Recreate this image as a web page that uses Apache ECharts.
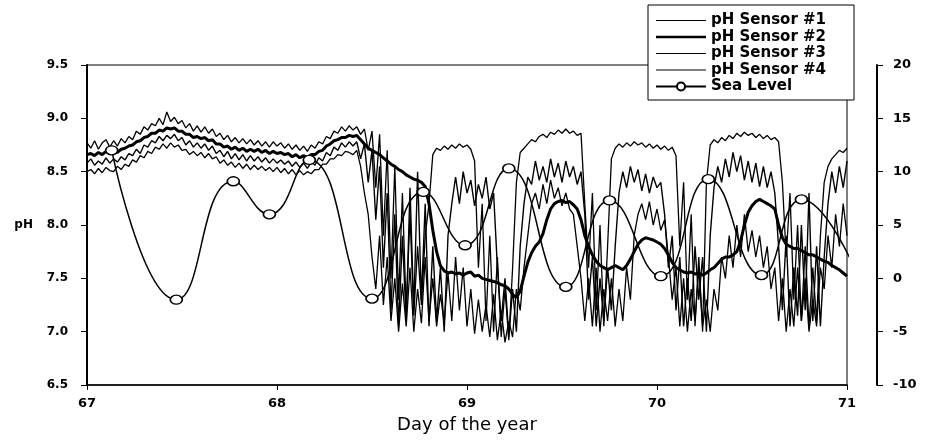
<!DOCTYPE html>
<html>
<head>
<meta charset="utf-8">
<script src="https://cdn.jsdelivr.net/npm/echarts@6/dist/echarts.min.js"></script>
<style>
  html, body { margin: 0; padding: 0; background: #fff; }
  #main { width: 930px; height: 442px; }
</style>
</head>
<body>
<div id="main"></div>
<script>
// sensor readings, one value every 0.02 day from day 67.00 to 71.00
var dayStart = 67
var dayStep = 0.02

var sensor1 = [
  8.77,8.72,8.79,8.71,8.77,8.80,8.73,8.79,8.74,8.81,
  8.77,8.83,8.80,8.88,8.85,8.92,8.89,8.95,8.93,9.00,
  8.94,9.06,8.97,9.01,8.95,8.98,8.91,8.95,8.88,8.93,
  8.87,8.92,8.86,8.90,8.83,8.86,8.80,8.84,8.78,8.82,
  8.77,8.81,8.76,8.80,8.75,8.79,8.74,8.78,8.73,8.78,
  8.74,8.77,8.72,8.76,8.71,8.75,8.70,8.74,8.69,8.75,
  8.72,8.78,8.76,8.83,8.81,8.88,8.86,8.92,8.88,8.93,
  8.89,
  8.92,8.85,8.90,8.70,8.88,8.35,8.85,7.90,8.70,7.50,
  8.55,7.30,8.30,7.20,8.10,7.15,7.80,7.25,7.90,8.20,
  8.66,8.72,8.70,8.74,8.71,8.75,8.72,8.76,8.73,8.75,
  8.71,8.60,7.60,8.20,7.10,7.90,7.00,7.70,6.95,7.40,
  6.92,7.60,8.40,8.68,8.72,8.76,8.80,8.78,8.83,8.85,
  8.82,8.87,8.85,8.89,8.86,8.90,8.86,8.88,8.84,8.86,
  8.20,7.60,8.30,7.20,8.00,7.05,7.80,8.62,8.72,8.76,
  8.73,8.77,8.74,8.78,8.75,8.77,8.73,8.76,8.72,8.75,
  8.71,8.74,8.70,8.73,8.65,7.80,8.40,7.30,8.10,7.05,
  7.70,7.00,8.40,8.75,8.80,8.77,8.82,8.79,8.84,8.81,
  8.86,8.83,8.87,8.84,8.86,8.82,8.85,8.81,8.84,8.80,
  8.82,8.78,8.40,7.70,8.30,7.30,8.00,7.10,7.80,7.05,
  7.60,7.10,7.90,8.40,8.55,8.62,8.66,8.70,8.68,8.72
]

var sensor2 = [
  8.66,8.67,8.65,8.68,8.66,8.69,8.67,8.70,8.68,8.71,
  8.72,8.74,8.75,8.78,8.79,8.82,8.83,8.86,8.86,8.89,
  8.88,8.91,8.90,8.91,8.88,8.88,8.85,8.85,8.82,8.83,
  8.81,8.82,8.79,8.80,8.76,8.76,8.73,8.74,8.71,8.73,
  8.70,8.72,8.69,8.71,8.69,8.71,8.68,8.70,8.67,8.69,
  8.67,8.68,8.66,8.67,8.64,8.66,8.63,8.65,8.63,8.66,
  8.66,8.69,8.70,8.74,8.76,8.79,8.80,8.82,8.82,8.84,
  8.83,
  8.84,8.80,8.76,8.72,8.70,8.68,8.66,8.63,8.60,8.57,
  8.55,8.52,8.50,8.47,8.45,8.43,8.42,8.40,8.36,8.20,
  7.95,7.75,7.62,7.57,7.55,7.56,7.54,7.55,7.53,7.55,
  7.56,7.52,7.53,7.50,7.49,7.48,7.47,7.46,7.44,7.43,
  7.40,7.35,7.32,7.38,7.52,7.65,7.74,7.80,7.84,7.92,
  8.05,8.15,8.20,8.22,8.23,8.21,8.22,8.19,8.15,8.05,
  7.90,7.80,7.72,7.66,7.62,7.60,7.58,7.60,7.62,7.60,
  7.58,7.62,7.68,7.75,7.82,7.86,7.88,7.87,7.86,7.84,
  7.82,7.78,7.72,7.65,7.60,7.58,7.56,7.55,7.56,7.54,
  7.55,7.53,7.55,7.58,7.60,7.64,7.68,7.70,7.70,7.72,
  7.75,7.85,8.00,8.12,8.18,8.22,8.24,8.22,8.20,8.18,
  8.15,8.00,7.88,7.82,7.80,7.78,7.78,7.76,7.74,7.72,
  7.72,7.70,7.68,7.66,7.65,7.62,7.60,7.58,7.55,7.52
]

var sensor3 = [
  8.58,8.62,8.56,8.60,8.57,8.63,8.58,8.62,8.59,8.64,
  8.61,8.67,8.65,8.71,8.67,8.75,8.73,8.79,8.77,8.83,
  8.79,8.84,8.81,8.85,8.79,8.82,8.75,8.79,8.73,8.77,
  8.72,8.76,8.70,8.74,8.67,8.70,8.64,8.69,8.62,8.67,
  8.61,8.66,8.60,8.65,8.60,8.64,8.59,8.63,8.58,8.62,
  8.58,8.61,8.57,8.60,8.55,8.59,8.54,8.58,8.53,8.59,
  8.56,8.63,8.60,8.68,8.65,8.73,8.70,8.77,8.73,8.78,
  8.74,
  8.78,8.62,8.76,8.40,8.70,8.05,8.55,7.60,8.30,7.20,
  8.10,7.05,7.90,7.10,8.35,7.20,8.50,7.30,8.20,7.05,
  7.80,7.10,7.60,7.00,7.90,8.20,8.45,8.20,8.50,8.30,
  8.42,8.18,8.38,8.25,8.45,8.15,8.30,7.60,7.10,7.50,
  6.95,7.40,7.00,7.80,8.20,8.45,8.38,8.60,8.42,8.55,
  8.40,8.62,8.45,8.58,8.40,8.60,8.45,8.55,8.38,8.50,
  8.10,7.30,7.70,7.05,7.50,7.10,7.60,7.20,7.80,8.30,
  8.50,8.35,8.55,8.40,8.52,8.32,8.48,8.30,8.45,8.35,
  8.40,8.10,7.60,7.90,7.20,7.70,7.05,7.50,7.10,7.80,
  7.30,7.70,7.00,7.90,8.35,8.55,8.40,8.62,8.45,8.68,
  8.50,8.65,8.42,8.60,8.40,8.58,8.36,8.55,8.35,8.50,
  8.30,7.80,7.20,7.90,7.05,7.60,7.15,8.00,7.20,8.30,
  7.10,7.80,7.05,7.70,8.20,8.50,8.30,8.55,8.35,8.60
]

var sensor4 = [
  8.50,8.52,8.48,8.53,8.49,8.54,8.51,8.50,8.55,8.52,
  8.57,8.55,8.61,8.59,8.65,8.63,8.69,8.67,8.73,8.71,
  8.76,8.72,8.77,8.73,8.75,8.70,8.71,8.66,8.69,8.65,
  8.68,8.63,8.67,8.62,8.64,8.58,8.61,8.56,8.59,8.54,
  8.58,8.53,8.57,8.52,8.56,8.52,8.55,8.51,8.54,8.50,
  8.54,8.49,8.53,8.48,8.52,8.47,8.51,8.47,8.50,8.48,
  8.52,8.52,8.57,8.57,8.62,8.62,8.66,8.65,8.69,8.68,
  8.66,
  8.70,8.55,8.30,8.10,7.70,7.40,7.90,7.25,7.70,7.10,
  7.50,7.00,7.45,7.05,7.60,7.00,7.40,7.08,7.70,7.10,
  7.50,7.05,7.35,7.08,7.55,7.10,7.70,7.20,7.60,7.05,
  7.40,6.98,7.30,7.00,7.25,6.95,7.35,6.92,7.20,6.90,
  7.10,6.95,7.40,7.20,7.60,7.90,8.20,8.30,8.15,8.38,
  8.20,8.42,8.25,8.35,8.18,8.30,8.15,8.10,7.80,7.50,
  7.10,7.50,7.05,7.60,7.00,7.40,7.10,7.50,7.05,7.40,
  7.10,7.60,7.30,7.90,8.10,8.20,8.05,8.22,8.00,8.15,
  7.95,8.05,7.70,7.30,7.60,7.05,7.50,7.00,7.40,7.10,
  7.60,7.05,7.30,7.00,7.40,7.20,7.70,7.50,7.90,7.60,
  8.00,7.70,8.10,7.75,7.95,7.70,7.90,7.60,7.80,7.40,
  7.60,7.10,7.50,7.00,7.40,7.05,7.60,7.10,7.50,7.00,
  7.30,7.05,7.60,7.40,7.90,7.60,8.10,7.80,8.20,7.90
]

// tide gauge points (day, level)
var seaDays = [67.13, 67.47, 67.77, 67.96, 68.17, 68.50, 68.77, 68.99, 69.22, 69.52, 69.75, 70.02, 70.27, 70.55, 70.76, 71.05]
var seaLevel = [12.0, -2.0, 9.1, 6.0, 11.1, -1.9, 8.1, 3.1, 10.3, -0.8, 7.3, 0.2, 9.3, 0.3, 7.4, 0.5]

var sensorNames = ['pH Sensor #1', 'pH Sensor #2', 'pH Sensor #3', 'pH Sensor #4']
var seaName = 'Sea Level'

function pairs(vals) {
  return vals.map(function (v, i) {
    return [+(dayStart + i * dayStep).toFixed(2), v]
  })
}

var chart = echarts.init(document.getElementById('main'), null, { renderer: 'canvas' })

var tickFont = { color: '#000', fontFamily: 'DejaVu Sans', fontWeight: 'bold' }
// plain line samples for the sensors in the legend (no marker)
var thinIcon = 'path://M0,0H50V1H0Z'
var thickIcon = 'path://M0,0H50V2.6H0Z'

var option = {
  animation: false,
  backgroundColor: '#fff',
  grid: {
    left: 87, right: 83, top: 65, bottom: 57,
    show: true, borderColor: '#000', borderWidth: 1,
    outerBoundsMode: 'none'
  },
  legend: {
    orient: 'vertical',
    left: 648, top: 5,
    padding: [8, 28, 6, 7],
    itemWidth: 50, itemHeight: 10, itemGap: 1.5,
    backgroundColor: '#fff',
    borderColor: '#000', borderWidth: 1,
    textStyle: { color: '#000', fontFamily: 'DejaVu Sans', fontWeight: 'bold', fontSize: 15, lineHeight: 15 },
    data: [
      { name: sensorNames[0], icon: thinIcon },
      { name: sensorNames[1], icon: thickIcon },
      { name: sensorNames[2], icon: thinIcon },
      { name: sensorNames[3], icon: thinIcon },
      { name: seaName }
    ]
  },
  xAxis: {
    type: 'value', min: 67, max: 71, interval: 1,
    name: 'Day of the year', nameLocation: 'middle', nameGap: 31,
    nameTextStyle: { color: '#000', fontFamily: 'DejaVu Sans', fontSize: 18 },
    axisLine: { onZero: false, lineStyle: { color: '#000', width: 1.5 } },
    axisTick: { length: 5, lineStyle: { color: '#000' } },
    axisLabel: Object.assign({ fontSize: 13, margin: 12 }, tickFont),
    splitLine: { show: false }
  },
  yAxis: [
    {
      type: 'value', min: 6.5, max: 9.5, interval: 0.5,
      name: 'pH', nameLocation: 'middle', nameRotate: 0, nameGap: 54,
      nameTextStyle: Object.assign({ fontSize: 12, padding: [0, 0, 14, 0] }, tickFont),
      axisLine: { show: true, onZero: false, lineStyle: { color: '#000', width: 2 } },
      axisTick: { show: true, length: 6, lineStyle: { color: '#000' } },
      axisLabel: Object.assign({ fontSize: 12, margin: 19, formatter: function (v) { return v.toFixed(1) } }, tickFont),
      splitLine: { show: false }
    },
    {
      type: 'value', min: -10, max: 20, interval: 5, position: 'right', offset: 30,
      axisLine: { show: true, onZero: false, lineStyle: { color: '#000', width: 2 } },
      axisTick: { show: true, length: 6, lineStyle: { color: '#000' } },
      axisLabel: Object.assign({ fontSize: 13, margin: 16 }, tickFont),
      splitLine: { show: false }
    }
  ],
  series: [
    { name: sensorNames[0], type: 'line', data: pairs(sensor1), symbol: 'none', lineStyle: { color: '#000', width: 1.3 }, itemStyle: { color: '#000' } },
    { name: sensorNames[1], type: 'line', data: pairs(sensor2), symbol: 'none', lineStyle: { color: '#000', width: 3 }, itemStyle: { color: '#000' } },
    { name: sensorNames[2], type: 'line', data: pairs(sensor3), symbol: 'none', lineStyle: { color: '#000', width: 1.4 }, itemStyle: { color: '#000' } },
    { name: sensorNames[3], type: 'line', data: pairs(sensor4), symbol: 'none', lineStyle: { color: '#000', width: 1.3 }, itemStyle: { color: '#000' } },
    {
      name: seaName, type: 'line', yAxisIndex: 1, z: 5,
      data: seaDays.map(function (d, i) { return [d, seaLevel[i]] }),
      smooth: 0.5,
      symbol: 'circle', symbolSize: [12, 9],
      lineStyle: { color: '#000', width: 1.5 },
      itemStyle: { color: '#fff', borderColor: '#000', borderWidth: 1.5 }
    }
  ]
}

chart.setOption(option)
</script>
</body>
</html>
